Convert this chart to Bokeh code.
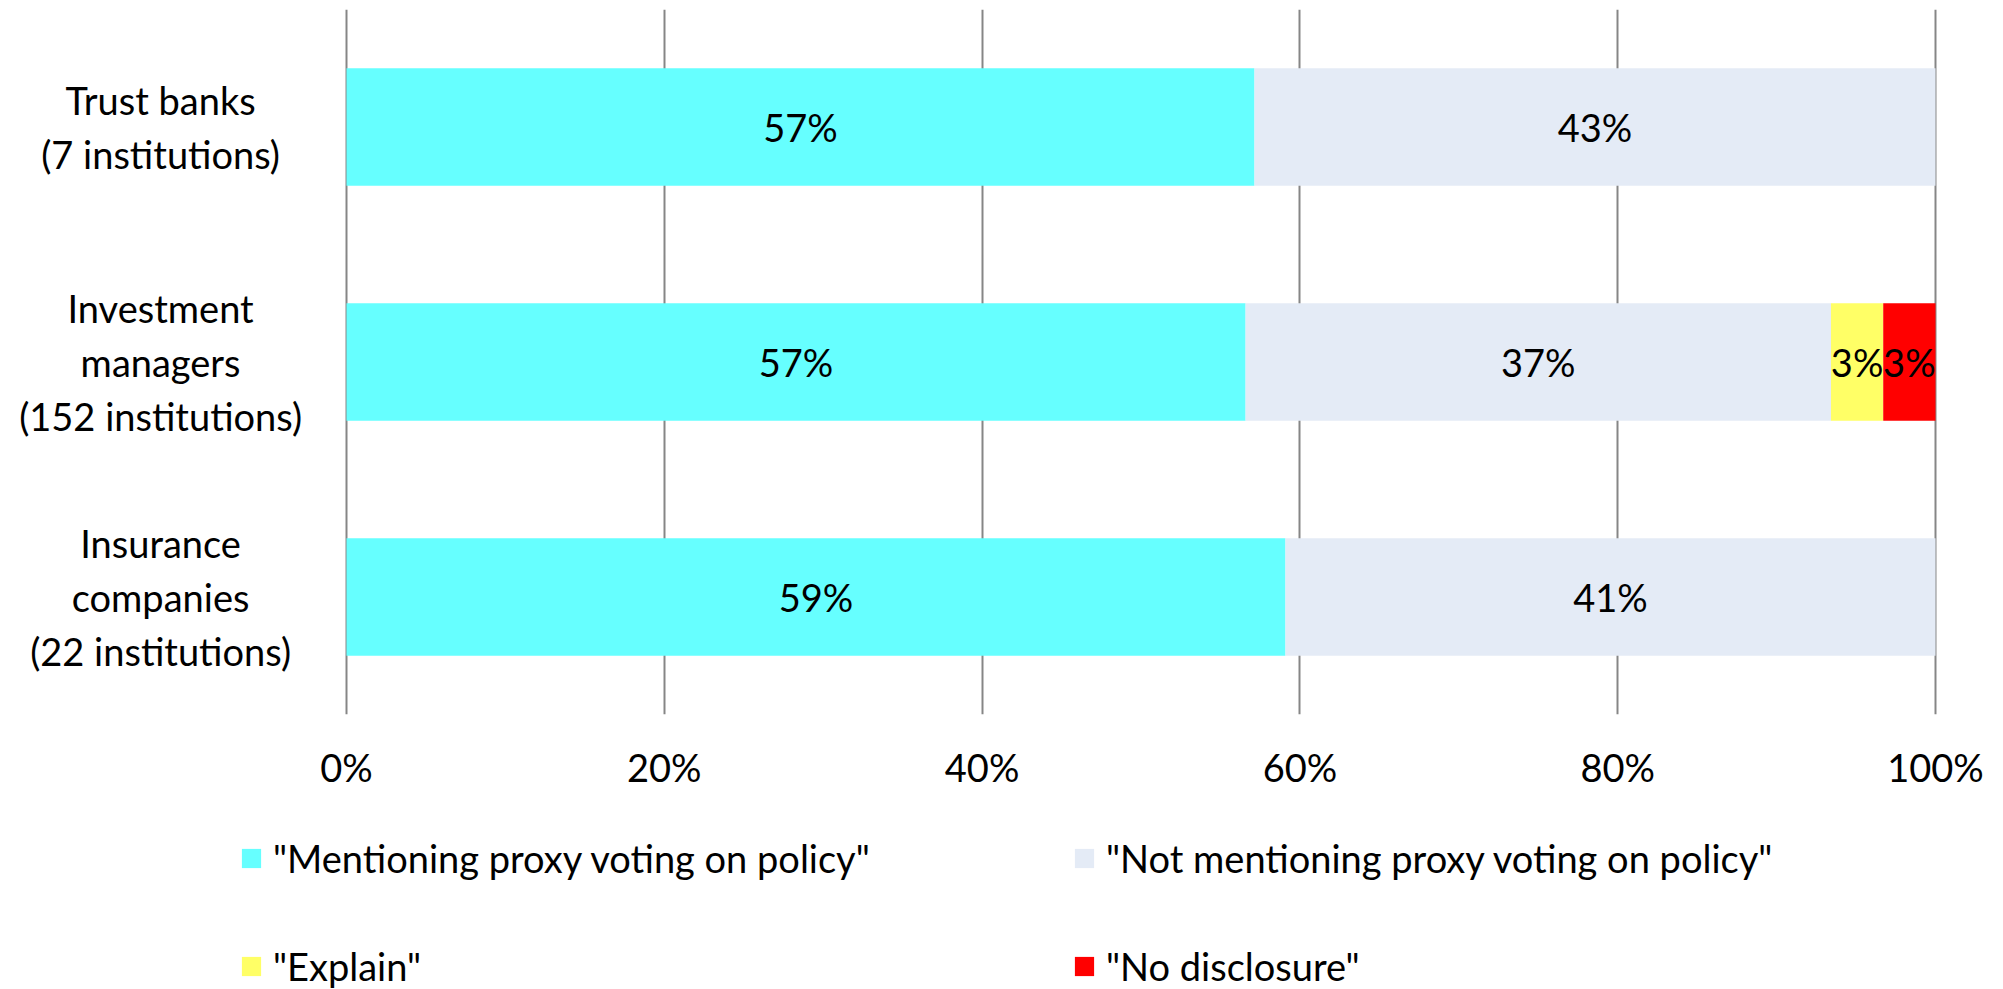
from bokeh.plotting import figure
from bokeh.layouts import column
from bokeh.models import FactorRange, Range1d, Legend, LegendItem, FixedTicker, ColumnDataSource
from bokeh.core.properties import value
from bokeh.embed import file_html
from bokeh.resources import INLINE

# ---- data ----
categories = ["Trust banks\n(7 institutions)",
              "Investment\nmanagers\n(152 institutions)",
              "Insurance\ncompanies\n(22 institutions)"]
mentioning = [57.14, 56.58, 59.09]
not_mentioning = [42.86, 36.84, 40.91]
explain = [0.0, 3.29, 0.0]
no_disclosure = [0.0, 3.29, 0.0]
mentioning_labels = ["57%", "57%", "59%"]
not_mentioning_labels = ["43%", "37%", "41%"]
explain_labels = ["", "3%", ""]
no_disclosure_labels = ["", "3%", ""]
series_names = ['"Mentioning proxy voting on policy"',
                '"Not mentioning proxy voting on policy"',
                '"Explain"',
                '"No disclosure"']
series_colors = ["#66FFFF", "#E4EBF6", "#FFFF66", "#FF0000"]
tick_values = [0, 20, 40, 60, 80, 100]
tick_labels = ["0%", "20%", "40%", "60%", "80%", "100%"]

FONT = "Lato"
FS = "38px"
W = 2000

keys = ["m", "n", "e", "d"]
src = ColumnDataSource(dict(cat=categories, m=mentioning, n=not_mentioning,
                            e=explain, d=no_disclosure))

p = figure(width=W, height=800, output_backend="svg", toolbar_location=None,
           y_range=FactorRange(factors=categories[::-1], range_padding=0),
           x_range=Range1d(-21.775, 104.09),
           min_border_left=0, min_border_right=0, min_border_top=9,
           min_border_bottom=86)
p.outline_line_color = None
p.background_fill_color = "white"
p.border_fill_color = "white"

renderers = p.hbar_stack(keys, y="cat", height=0.5, color=series_colors,
                         source=src, line_color=None)

# segment labels
all_vals = [mentioning, not_mentioning, explain, no_disclosure]
all_labs = [mentioning_labels, not_mentioning_labels, explain_labels, no_disclosure_labels]
lx, ly, lt = [], [], []
for i, c in enumerate(categories):
    left = 0.0
    for vals, labs in zip(all_vals, all_labs):
        v = vals[i]
        if v > 0 and labs[i]:
            lx.append(left + v / 2)
            ly.append(c)
            lt.append(labs[i])
        left += v
p.text(x=lx, y=ly, text=lt, text_align="center", text_baseline="middle",
       text_font=value(FONT), text_font_size=FS, text_color="black")

# category labels (left side)
p.text(x=[-11.7] * len(categories), y=categories, text=categories,
       text_align="center", text_baseline="middle", text_line_height=1.17,
       text_font=value(FONT), text_font_size=FS, text_color="black")

# axes
p.yaxis.visible = False
p.xaxis.ticker = FixedTicker(ticks=tick_values)
p.xaxis.major_label_overrides = {v: l for v, l in zip(tick_values, tick_labels)}
p.xaxis.axis_line_color = None
p.xaxis.major_tick_line_color = None
p.xaxis.minor_tick_line_color = None
p.xaxis.major_label_standoff = 23
p.xaxis.major_label_text_font = FONT
p.xaxis.major_label_text_font_size = FS
p.xaxis.major_label_text_color = "black"

p.ygrid.visible = False
p.xgrid.ticker = FixedTicker(ticks=tick_values)
p.xgrid.grid_line_color = "#868686"
p.xgrid.grid_line_width = 2

# legend panel (separate figure stacked below); its bars have zero height
# and lie outside its view, so only their legend swatches show
q = figure(width=W, height=189, output_backend="svg", toolbar_location=None,
           x_range=Range1d(1000, 1000 + W),
           y_range=FactorRange(factors=categories[::-1], range_padding=0),
           min_border_left=0, min_border_right=0, min_border_top=0,
           min_border_bottom=0)
q.outline_line_color = None
q.axis.visible = False
q.grid.visible = False
q.background_fill_color = "white"
q.border_fill_color = "white"
legend_renderers = q.hbar_stack(keys, y="cat", height=0, color=series_colors,
                                source=src, line_color=None)

legend = Legend(items=[LegendItem(label=n, renderers=[r]) for n, r in zip(series_names, legend_renderers)],
                location=(239, 0), orientation="horizontal", ncols=2,
                glyph_width=24, glyph_height=24, label_standoff=10,
                label_height=46, label_width=737, spacing=62,
                padding=0, margin=0, border_line_color=None,
                background_fill_alpha=0,
                label_text_font=FONT, label_text_font_size=FS,
                label_text_color="black", label_text_baseline="middle")
q.add_layout(legend, "center")

layout = column(p, q, spacing=0)
open("out.html", "w").write(file_html(layout, INLINE))
